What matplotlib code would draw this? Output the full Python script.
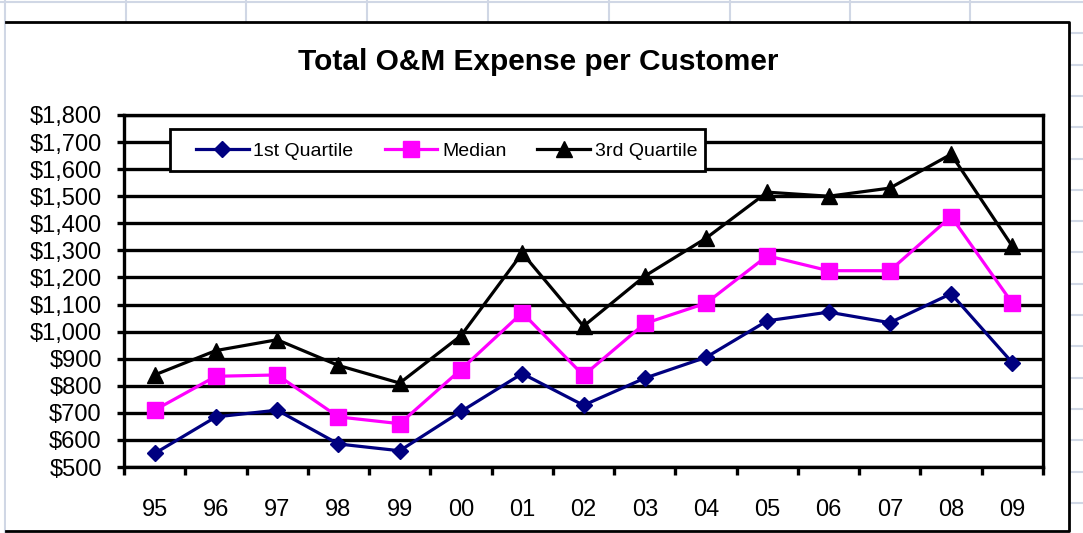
import matplotlib
matplotlib.use("Agg")
import matplotlib.pyplot as plt
from matplotlib.lines import Line2D
from matplotlib.patches import Rectangle
from matplotlib.ticker import FixedLocator, FuncFormatter

plt.rcParams['font.family'] = ['Liberation Sans', 'DejaVu Sans']

years = ["95", "96", "97", "98", "99", "00", "01", "02", "03", "04", "05", "06", "07", "08", "09"]
first_quartile = [550, 685, 710, 585, 560, 705, 845, 728, 828, 905, 1040, 1072, 1033, 1140, 885]
median = [710, 835, 840, 685, 660, 860, 1070, 838, 1030, 1105, 1280, 1225, 1225, 1425, 1105]
third_quartile = [840, 930, 970, 875, 810, 985, 1290, 1020, 1205, 1345, 1515, 1500, 1530, 1655, 1315]
y_ticks = list(range(500, 1801, 100))

W, H = 1083, 533
fig = plt.figure(figsize=(W / 100, H / 100), dpi=100)


def fx(px):
    return px / W


def fy(py):
    return 1 - py / H


# spreadsheet cells behind the chart
grid_col = "#D0D7E5"
bg = []
bg.append(Line2D([0, 1], [fy(2), fy(2)], color=grid_col, lw=1.5))
bg.append(Line2D([fx(4.5), fx(4.5)], [0, 1], color=grid_col, lw=1.5))
for cx in [126, 246, 367, 488, 609, 730, 850, 970]:
    bg.append(Line2D([fx(cx), fx(cx)], [fy(0), fy(22)], color=grid_col, lw=1.5))
ry = 33.3
while ry < H:
    bg.append(Line2D([fx(1069), 1], [fy(ry), fy(ry)], color=grid_col, lw=1.5))
    ry += 31.3
for ln in bg:
    ln.set_zorder(-3)
    fig.add_artist(ln)

# chart area
fig.add_artist(Rectangle((fx(6), fy(531)), fx(1069) - fx(6), fy(22) - fy(531),
                         transform=fig.transFigure, facecolor="white", edgecolor="none",
                         zorder=-2))
fig.add_artist(Line2D([fx(6), fx(1069), fx(1069), fx(6)],
                      [fy(22), fy(22), fy(531), fy(531)], color="black", lw=2, zorder=-1))

fig.text(fx(538), fy(62), "Total O&M Expense per Customer", ha="center", va="center",
         fontsize=21.5, fontweight="bold")

ax = fig.add_axes([fx(124), fy(467), fx(1043) - fx(124), fy(115) - fy(467)])
ax.set_facecolor("white")

x = list(range(len(years)))
ax.plot(x, first_quartile, color="#000080", lw=2.3, marker="D", markersize=8.5,
        label="1st Quartile", zorder=3)
ax.plot(x, median, color="#FF00FF", lw=2.3, marker="s", markersize=11.5,
        label="Median", zorder=3)
ax.plot(x, third_quartile, color="black", lw=2.3, marker="^", markersize=11,
        label="3rd Quartile", zorder=3)

ax.set_xlim(-0.5, len(years) - 0.5)
ax.set_ylim(500, 1800)
ax.set_yticks(y_ticks)
ax.yaxis.set_major_formatter(FuncFormatter(lambda v, p: f"${v:,.0f}"))
ax.set_xticks(x)
ax.set_xticklabels(years)
ax.xaxis.set_minor_locator(FixedLocator([i - 0.5 for i in range(len(years) + 1)]))

ax.grid(axis="y", color="black", lw=2.4, zorder=1)
ax.set_axisbelow(True)
for s in ax.spines.values():
    s.set_linewidth(2.4)
    s.set_color("black")

ax.tick_params(axis="y", direction="out", length=5, width=2.4, pad=11, labelsize=17)
ax.tick_params(axis="x", which="major", length=0, pad=23, labelsize=17)
ax.tick_params(axis="x", which="minor", direction="out", length=6, width=2.4)

# legend box
ax.add_artist(Rectangle((fx(170), fy(171)), fx(705) - fx(170), fy(129) - fy(171),
                        transform=fig.transFigure, facecolor="white", edgecolor="black",
                        lw=2, clip_on=False, zorder=4))
leg = ax.legend(loc="center left", bbox_to_anchor=(fx(196), fy(151)),
                bbox_transform=fig.transFigure, ncol=3, frameon=False, fontsize=14,
                handlelength=2.7, handletextpad=0.25, columnspacing=1.6,
                borderpad=0, borderaxespad=0)
leg.set_zorder(5)

fig.savefig("out.png", dpi=100)
